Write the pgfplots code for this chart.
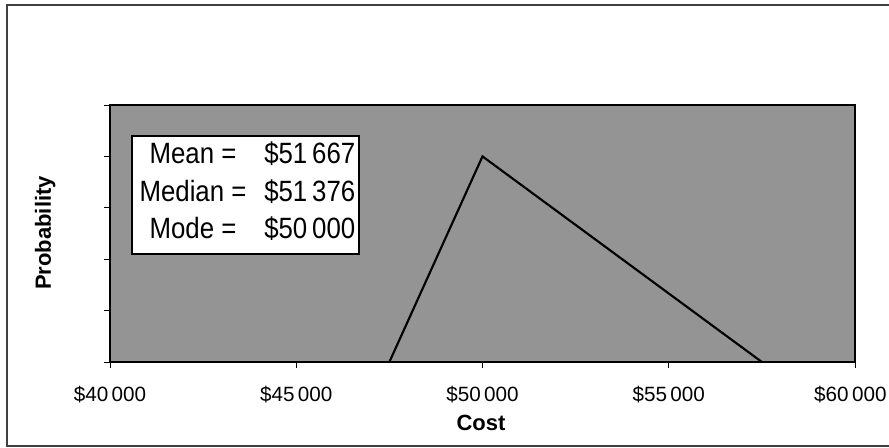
\documentclass[border=0pt]{standalone}
\usepackage{pgfplots}
\pgfplotsset{compat=1.18}
\usepackage{fontspec}
\setmainfont{Liberation Sans}
\newfontfamily\condensed[FakeStretch=0.88]{Liberation Sans}
\begin{document}
\begin{tikzpicture}
\path[use as bounding box] (0pt,0pt) rectangle (666.75pt,335.25pt);
\draw[line width=1.6pt, black!75] (5.25pt,0.75pt) rectangle (672pt,331.5pt);
\begin{axis}[
  at={(82.5pt,63.75pt)}, anchor=south west,
  width=558.75pt, height=192.75pt, scale only axis,
  xmin=40000, xmax=60000, ymin=0, ymax=0.00025,
  scaled y ticks=false, scaled x ticks=false,
  xtick={40000,45000,50000,55000,60000},
  xticklabels={\$40\,000,\$45\,000,\$50\,000,\$55\,000,\$60\,000\hspace*{7pt}},
  ytick={0,0.00005,0.0001,0.00015,0.0002,0.00025},
  yticklabels={},
  xtick pos=left, ytick pos=left,
  tick align=outside, major tick length=4.5pt,
  tick style={black, line width=0.6pt},
  axis line style={black, line width=1pt},
  axis background/.style={fill=black!42},
  xticklabel style={font=\fontsize{15.5}{18}\selectfont, yshift=-10pt},
  xlabel={Cost}, ylabel={Probability},
  xlabel style={font=\bfseries\fontsize{16.5}{19}\selectfont, at={(axis description cs:0.498,-0.237)}, anchor=center},
  ylabel style={font=\bfseries\fontsize{16.5}{19}\selectfont, at={(axis description cs:-0.087,0.502)}, anchor=center},
]
\addplot[black, line width=1.6pt] coordinates {(47500,0) (50000,0.0002) (57500,0)};
\end{axis}
\begin{scope}[x=0.75pt,y=0.75pt]
\draw[fill=white, draw=black, line width=1.3pt] (132,193) rectangle (359,311);
\begin{scope}[every node/.style={font=\condensed\fontsize{22}{26}\selectfont, inner sep=0pt}]
\node[anchor=base] at (193,283) {Mean =};
\node[anchor=base] at (193,245) {Median =};
\node[anchor=base] at (193,209) {Mode =};
\node[anchor=base west] at (264,283) {\$51\,667};
\node[anchor=base west] at (264,245) {\$51\,376};
\node[anchor=base west] at (264,209) {\$50\,000};
\end{scope}
\end{scope}
\end{tikzpicture}
\end{document}
